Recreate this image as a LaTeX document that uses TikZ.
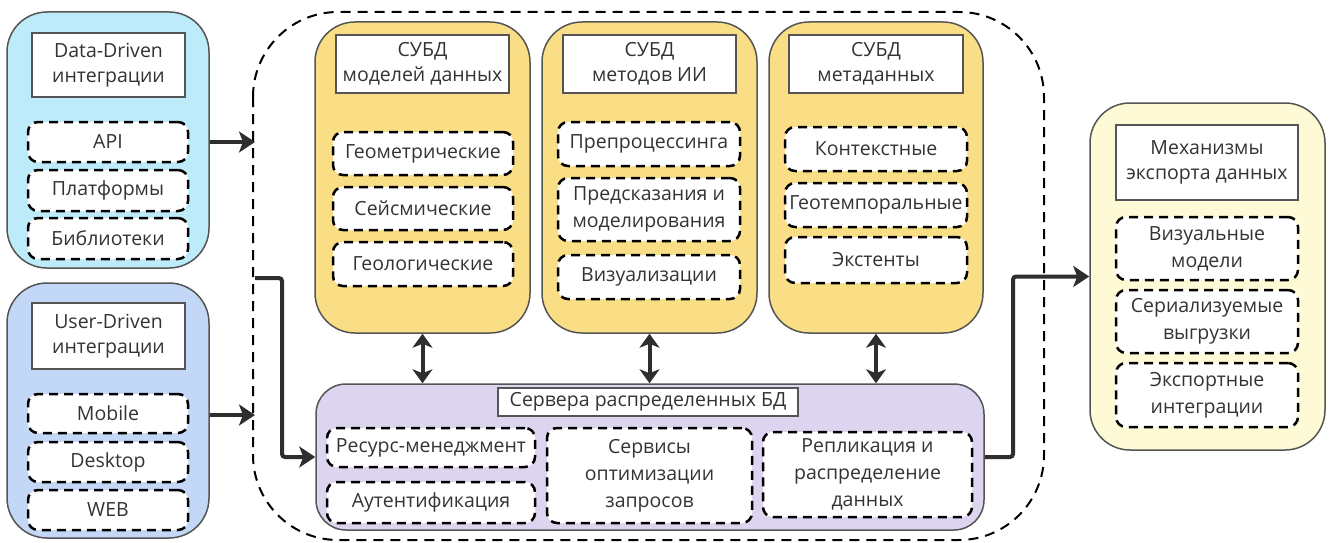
\documentclass[tikz,border=0pt]{standalone}
\usepackage{fontspec}
\setmainfont{Open Sans}
\usetikzlibrary{arrows.meta,calc}

\definecolor{ddfill}{HTML}{BDEBFA}
\definecolor{udfill}{HTML}{C3D8F7}
\definecolor{dbfill}{HTML}{F9DE86}
\definecolor{srvfill}{HTML}{DDD4F0}
\definecolor{expfill}{HTML}{FFFAD6}
\definecolor{edge}{HTML}{555555}
\definecolor{ink}{HTML}{333333}
\definecolor{wire}{HTML}{2E2E2E}

\tikzset{
  panel/.style={draw=edge, line width=1.5pt, rounded corners=40pt, inner sep=0pt},
  titlebox/.style={draw=edge, line width=1.5pt, fill=white, align=center, inner sep=0pt, text=ink,
    font=\fontsize{19.5}{25}\selectfont},
  itembox/.style={draw=black, line width=2.5pt, dash pattern=on 9pt off 6pt, fill=white,
    rounded corners=10pt, align=center, inner sep=0pt, text=ink,
    font=\fontsize{19.5}{27}\selectfont},
  frame/.style={draw=black, line width=2pt, dash pattern=on 10pt off 7pt, rounded corners=85pt},
  conn/.style={draw=wire, line width=4pt, -{Stealth[length=16pt,width=21pt,inset=4pt]}},
  biconn/.style={draw=wire, line width=4pt, {Stealth[length=14pt,width=20pt,inset=4pt]}-{Stealth[length=14pt,width=20pt,inset=4pt]}},
}

\begin{document}
\begin{tikzpicture}[x=1pt,y=-1pt]
\useasboundingbox (0,0) rectangle (1334,543);

% outer dashed frame around storage and servers
\draw[frame] (253,12) rectangle (1044,540);

% Data-Driven integrations
\node[panel, fill=ddfill, minimum width=202pt, minimum height=256pt] (dd) at (108,140) {};
\node[titlebox, minimum width=153pt, minimum height=64pt] (ddt) at (108.5,65) {Data-Driven\\интеграции};
\node[itembox, minimum width=160pt, minimum height=40pt] (api) at (108,142) {API};
\node[itembox, minimum width=160pt, minimum height=41pt] (plat) at (108,190.5) {Платформы};
\node[itembox, minimum width=160pt, minimum height=41pt] (lib) at (108,238.5) {Библиотеки};

% User-Driven integrations
\node[panel, fill=udfill, minimum width=202pt, minimum height=255pt] (ud) at (108,410.5) {};
\node[titlebox, minimum width=153pt, minimum height=66pt] (udt) at (108.5,336) {User-Driven\\интеграции};
\node[itembox, minimum width=160pt, minimum height=39pt] (mob) at (108,413.5) {Mobile};
\node[itembox, minimum width=160pt, minimum height=40pt] (desk) at (108,462) {Desktop};
\node[itembox, minimum width=160pt, minimum height=40pt] (web) at (108,510) {WEB};

% DBMS of data models
\node[panel, fill=dbfill, minimum width=215pt, minimum height=311pt] (db1) at (422.5,177.5) {};
\node[titlebox, minimum width=173pt, minimum height=58pt] (db1t) at (422.5,64) {СУБД\\моделей данных};
\node[itembox, minimum width=180pt, minimum height=43pt] (geom) at (423,153.5) {Геометрические};
\node[itembox, minimum width=180pt, minimum height=43pt] (seis) at (423,208.5) {Сейсмические};
\node[itembox, minimum width=180pt, minimum height=44pt] (geol) at (423,264) {Геологические};

% DBMS of AI methods
\node[panel, fill=dbfill, minimum width=215pt, minimum height=311pt] (db2) at (649.5,177.5) {};
\node[titlebox, minimum width=173pt, minimum height=58pt] (db2t) at (649.5,64) {СУБД\\методов ИИ};
\node[itembox, minimum width=182pt, minimum height=44pt] (prep) at (649,144) {Препроцессинга};
\node[itembox, minimum width=182pt, minimum height=63pt] (pred) at (649,209.5) {Предсказания и\\моделирования};
\node[itembox, minimum width=182pt, minimum height=44pt] (viz) at (649,277) {Визуализации};

% DBMS of metadata
\node[panel, fill=dbfill, minimum width=214pt, minimum height=311pt] (db3) at (876,177.5) {};
\node[titlebox, minimum width=174pt, minimum height=58pt] (db3t) at (876,64) {СУБД\\метаданных};
\node[itembox, minimum width=182pt, minimum height=44pt] (kont) at (876,149) {Контекстные};
\node[itembox, minimum width=182pt, minimum height=44pt] (geot) at (876,205) {Геотемпоральные};
\node[itembox, minimum width=182pt, minimum height=46pt] (ekst) at (876,260) {Экстенты};

% distributed database servers
\node[panel, rounded corners=30pt, fill=srvfill, minimum width=668pt, minimum height=146pt] (srv) at (650,457) {};
\node[titlebox, minimum width=300pt, minimum height=28pt] (srvt) at (648,402) {Сервера распределенных БД};
\node[itembox, minimum width=208pt, minimum height=39pt] (res) at (431,447.5) {Ресурс-менеджмент};
\node[itembox, minimum width=208pt, minimum height=41pt] (aut) at (431,502.5) {Аутентификация};
\node[itembox, minimum width=205pt, minimum height=95pt] (opt) at (649.5,475.5) {Сервисы\\оптимизации\\запросов};
\node[itembox, minimum width=209pt, minimum height=85pt] (rep) at (867.5,474.5) {Репликация и\\распределение\\данных};

% data export mechanisms
\node[panel, fill=expfill, minimum width=235pt, minimum height=347pt] (exp) at (1207.5,276.5) {};
\node[titlebox, minimum width=182pt, minimum height=75pt] (expt) at (1207,162.5) {Механизмы\\экспорта данных};
\node[itembox, minimum width=182pt, minimum height=63pt] (vis) at (1207,248.5) {Визуальные\\модели};
\node[itembox, minimum width=182pt, minimum height=63pt] (ser) at (1207,321.5) {Сериализуемые\\выгрузки};
\node[itembox, minimum width=182pt, minimum height=64pt] (expi) at (1207,395) {Экспортные\\интеграции};

% connectors
\coordinate (inA) at (255,142);
\coordinate (inB) at (255,415);
\coordinate (route) at (255,278);
\draw[conn] (dd.east |- inA) -- (inA);
\draw[conn] (ud.east |- inB) -- (inB);
\draw[conn, rounded corners=3pt] (route) -- (282,278) |- (srv.west);
\draw[biconn] (db1.south) -- (db1.south |- srv.north);
\draw[biconn] (db2.south) -- (db2.south |- srv.north);
\draw[biconn] (db3.south) -- (db3.south |- srv.north);
\draw[conn, rounded corners=3pt] (srv.east) -- (1013,457) |- (exp.west);
\end{tikzpicture}
\end{document}
